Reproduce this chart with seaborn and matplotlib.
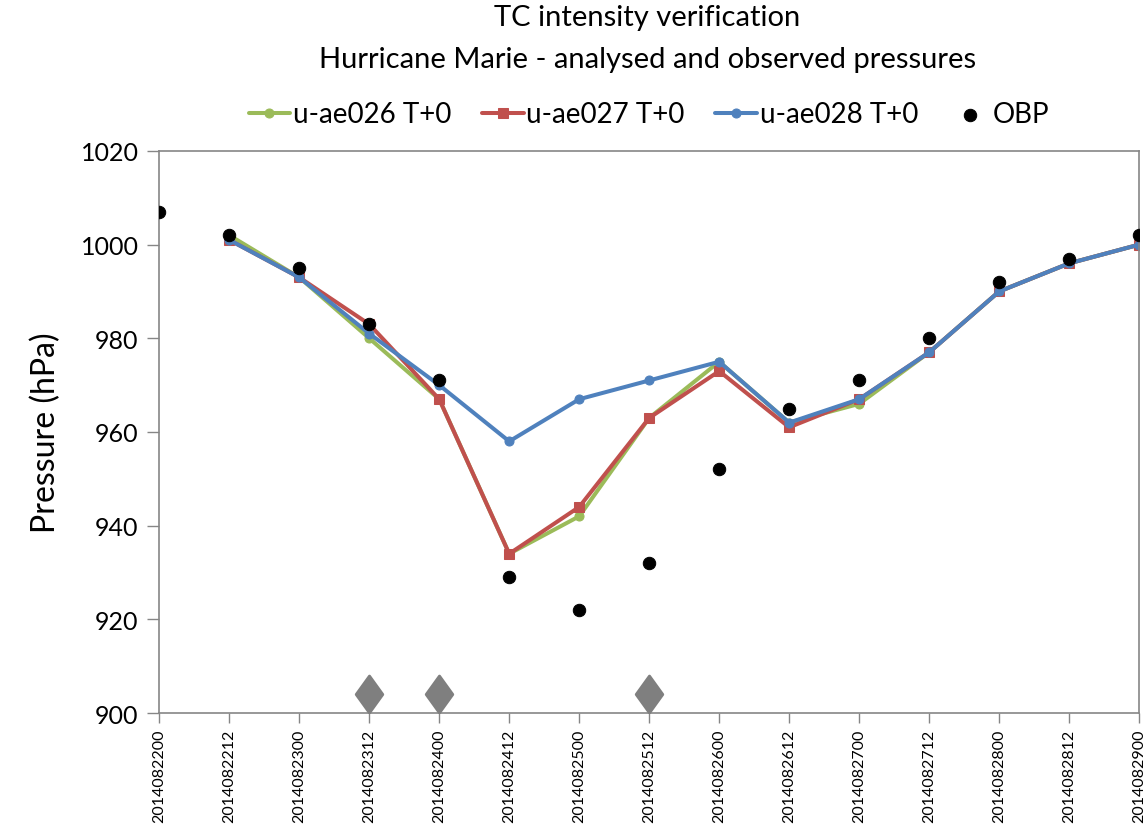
import numpy as np
import pandas as pd
import matplotlib
matplotlib.use("Agg")
import matplotlib.pyplot as plt
import seaborn as sns
from matplotlib.path import Path

times = ["2014082200", "2014082212", "2014082300", "2014082312", "2014082400",
         "2014082412", "2014082500", "2014082512", "2014082600", "2014082612",
         "2014082700", "2014082712", "2014082800", "2014082812", "2014082900"]

ae026 = [np.nan, 1002, 993, 980, 967, 934, 942, 963, 975, 962, 966, 977, 990, 996, 1000]
ae027 = [np.nan, 1001, 993, 983, 967, 934, 944, 963, 973, 961, 967, 977, 990, 996, 1000]
ae028 = [np.nan, 1001, 993, 981, 970, 958, 967, 971, 975, 962, 967, 977, 990, 996, 1000]
obp = [1007, 1002, 995, 983, 971, 929, 922, 932, 952, 965, 971, 980, 992, 997, 1002]
flag_times = ["2014082312", "2014082400", "2014082512"]
flag_value = [904, 904, 904]

sns.set_theme(style="white")
plt.rcParams['font.family'] = ['Lato', 'DejaVu Sans']
plt.rcParams['text.color'] = 'black'
plt.rcParams['axes.labelcolor'] = 'black'
plt.rcParams['xtick.color'] = 'black'
plt.rcParams['ytick.color'] = 'black'

fig = plt.figure(figsize=(11.46, 8.29), dpi=100)
ax = fig.add_axes([0.139, 0.1387, 0.855, 0.678])

pos = np.arange(len(times))
df = pd.DataFrame({"pos": pos, "ae026": ae026, "ae027": ae027, "ae028": ae028, "obp": obp})

green, red, blue = "#9BBB59", "#C0504D", "#4F81BD"
sns.lineplot(data=df, x="pos", y="ae026", ax=ax, color=green, lw=2.9, marker="o",
             markersize=6.5, markeredgecolor=green, label="u-ae026 T+0")
sns.lineplot(data=df, x="pos", y="ae027", ax=ax, color=red, lw=2.9, marker="s",
             markersize=6.5, markeredgecolor=red, label="u-ae027 T+0")
sns.lineplot(data=df, x="pos", y="ae028", ax=ax, color=blue, lw=2.9, marker="o",
             markersize=6.5, markeredgecolor=blue, label="u-ae028 T+0")
sns.scatterplot(data=df, x="pos", y="obp", ax=ax, color="black", s=80, edgecolor="black",
                label="OBP", zorder=5)

diamond = Path([(0, 1), (0.72, 0), (0, -1), (-0.72, 0), (0, 1)],
               [Path.MOVETO, Path.LINETO, Path.LINETO, Path.LINETO, Path.CLOSEPOLY])
fpos = [times.index(t) for t in flag_times]
sns.scatterplot(x=fpos, y=flag_value, ax=ax, marker=diamond, s=700, color="#7F7F7F",
                edgecolor="#7F7F7F", legend=False, zorder=4)

ax.set_xlim(0, len(times) - 1)
ax.set_ylim(900, 1020)
ax.set_yticks(np.arange(900, 1021, 20))
ax.set_xticks(pos)
ax.set_xticklabels(times, rotation=90, fontsize=11.5)
ax.tick_params(axis="y", labelsize=18, direction="out", length=9, width=1, color="#868686", left=True, pad=6)
ax.tick_params(axis="x", direction="out", length=7, width=1, color="#868686", bottom=True, pad=4)
for s in ax.spines.values():
    s.set_color("#868686")
    s.set_linewidth(1.2)
ax.set_xlabel("")
ax.set_ylabel("Pressure (hPa)", fontsize=23, labelpad=14)
ax.grid(False)

fig.text(0.565, 0.978, "TC intensity verification", ha="center", va="center", fontsize=21)
fig.text(0.565, 0.928, "Hurricane Marie - analysed and observed pressures", ha="center", va="center", fontsize=21)

ax.legend(loc="center", bbox_to_anchor=(0.5, 1.065), ncol=4, frameon=False, fontsize=20,
          handlelength=1.5, handletextpad=0.1, columnspacing=1.1, borderaxespad=0)

fig.savefig("out.png", dpi=100)
